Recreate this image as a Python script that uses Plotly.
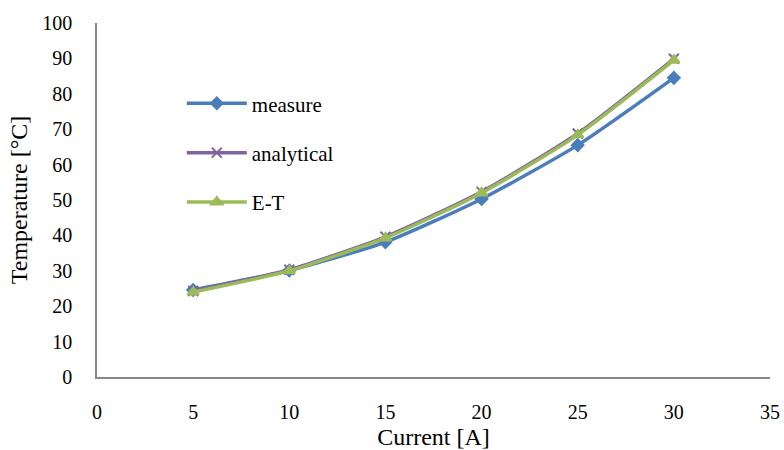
import plotly.graph_objects as go

current = [5, 10, 15, 20, 25, 30]
measure = [24.6, 30.1, 38.1, 50.3, 65.5, 84.5]
analytical = [24.3, 30.3, 39.6, 52.3, 68.8, 89.9]
e_t = [24.0, 30.0, 39.3, 52.0, 68.4, 89.5]

FONT = "Liberation Serif"

fig = go.Figure()
series = [
    ("measure", measure, "#4A7EBB", "diamond", 9),
    ("analytical", analytical, "#8064A2", "x-thin-open", 10),
    ("E-T", e_t, "#9BBB59", "triangle-up", 10),
]
for i, (name, vals, col, sym, sz) in enumerate(series):
    fig.add_trace(go.Scatter(
        x=current, y=vals, name=name, mode="lines+markers",
        line=dict(color=col, width=3.5, shape="spline", smoothing=0.6),
        marker=dict(symbol=sym, size=sz, color=col,
                    line=dict(color=col, width=2)),
        legendgroup=f"g{i}",
    ))

fig.update_layout(
    width=784, height=450,
    margin=dict(l=97, r=14, t=23, b=73, autoexpand=False),
    paper_bgcolor="white", plot_bgcolor="white",
    font=dict(family=FONT, size=20, color="black"),
    showlegend=True,
    legend=dict(x=0.126, y=0.83, xanchor="left", yanchor="top",
                bgcolor="rgba(0,0,0,0)", tracegroupgap=19,
                font=dict(family=FONT, size=21), itemwidth=60),
    xaxis=dict(range=[0, 35], tickvals=[0, 5, 10, 15, 20, 25, 30, 35],
               showgrid=False, zeroline=False, showline=True,
               linecolor="#888888", linewidth=1.5, ticks="",
               ticklabelstandoff=16, automargin=False,
               title=dict(text="Current [A]", standoff=15,
                          font=dict(family=FONT, size=24))),
    yaxis=dict(range=[0, 100], tickvals=list(range(0, 101, 10)),
               showgrid=False, zeroline=False, showline=True,
               linecolor="#888888", linewidth=1.5, ticks="",
               ticklabelstandoff=19, automargin=False,
               title=dict(text="Temperature [°C]", standoff=8,
                          font=dict(family=FONT, size=24))),
)

fig.write_html("out.html", config={"displayModeBar": False},
               post_script="document.body.style.margin='0';")
